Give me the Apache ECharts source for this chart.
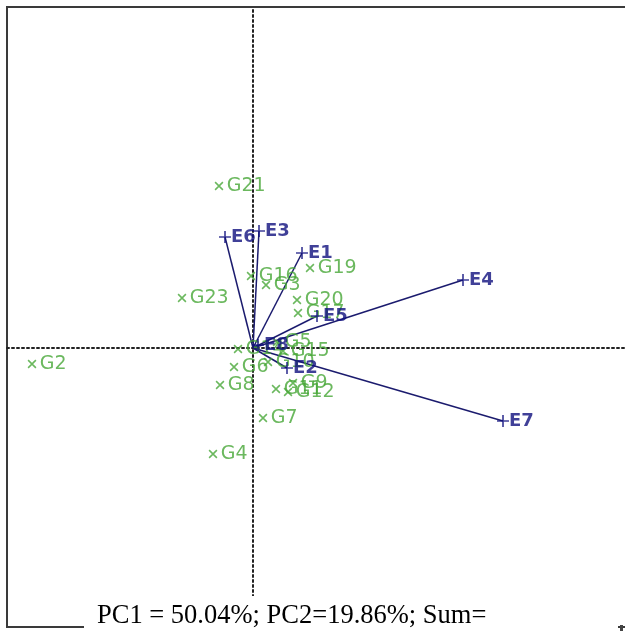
<!DOCTYPE html>
<html>
<head>
<meta charset="utf-8">
<script src="https://cdn.jsdelivr.net/npm/echarts@6/dist/echarts.min.js"></script>
<style>
  html, body { margin: 0; padding: 0; background: #fff; }
  #chart { width: 625px; height: 634px; }
</style>
</head>
<body>
<div id="chart"></div>
<script>
// environment vectors (PC1, PC2)
const envNames = ["E1", "E2", "E3", "E4", "E5", "E6", "E7", "E8"];
const envPC1 = [0.49, 0.34, 0.06, 2.10, 0.64, -0.28, 2.50, 0.05];
const envPC2 = [0.95, -0.20, 1.17, 0.68, 0.32, 1.11, -0.73, 0.03];

// genotype scores (PC1, PC2)
const genNames = ["G21", "G23", "G2", "G19", "G16", "G3", "G20", "G17", "G14", "G5", "G15",
  "G6", "G10", "G8", "G11", "G9", "G12", "G7", "G4"];
const genPC1 = [-0.34, -0.71, -2.21, 0.57, -0.02, 0.13, 0.44, 0.45, -0.15, 0.24, 0.30,
  -0.19, 0.15, -0.33, 0.23, 0.40, 0.35, 0.10, -0.40];
const genPC2 = [1.62, 0.50, -0.16, 0.80, 0.72, 0.63, 0.48, 0.35, -0.01, 0.06, -0.03,
  -0.19, -0.14, -0.37, -0.41, -0.35, -0.44, -0.70, -1.06];

const caption = "PC1 = 50.04%; PC2=19.86%; Sum=";

const plus = "path://M0,4.3H10V5.7H0Z M4.3,0H5.7V10H4.3Z";
const navy = "#1b1b6e";
const blue = "#10107e";
const green = "#46a636";

const chart = echarts.init(document.getElementById("chart"));

const envPoints = envNames.map((n, i) => ({ name: n, value: [envPC1[i], envPC2[i]] }));
const genPoints = genNames.map((n, i) => ({ name: n, value: [genPC1[i], genPC2[i]] }));
const vectors = envNames.map((n, i) => ({ coords: [[0, 0], [envPC1[i], envPC2[i]]] }));

chart.setOption({
  animation: false,
  grid: {
    left: 7, top: 7, width: 668, height: 620,
    outerBoundsMode: "none", containLabel: false,
    show: true, borderColor: "#3a3a3a", borderWidth: 2, backgroundColor: "transparent"
  },
  xAxis: {
    type: "value", min: -2.46, max: 4.22,
    axisLine: { show: true, onZero: true, lineStyle: { color: "#222", width: 2, type: [2, 3] } },
    axisTick: { show: false }, axisLabel: { show: false }, splitLine: { show: false }
  },
  yAxis: {
    type: "value", min: -2.79, max: 3.41,
    axisLine: { show: true, onZero: true, lineStyle: { color: "#222", width: 2, type: [2, 3] } },
    axisTick: { show: false }, axisLabel: { show: false }, splitLine: { show: false }
  },
  series: [
    {
      type: "lines",
      coordinateSystem: "cartesian2d",
      data: vectors,
      lineStyle: { color: navy, width: 1.5, opacity: 1 },
      z: 3
    },
    {
      type: "scatter",
      data: genPoints,
      symbol: plus,
      symbolSize: 11,
      symbolRotate: 45,
      itemStyle: { color: green },
      label: {
        show: true, position: "right", distance: 0,
        formatter: "{b}", color: green,
        fontFamily: "DejaVu Sans", fontSize: 19
      },
      z: 4
    },
    {
      type: "scatter",
      data: envPoints,
      symbol: plus,
      symbolSize: 12,
      itemStyle: { color: blue },
      label: {
        show: true, position: "right", distance: 0,
        formatter: "{b}", color: blue,
        fontFamily: "DejaVu Sans", fontSize: 18, fontWeight: "bold"
      },
      z: 5
    }
  ],
  graphic: [
    { type: "rect", left: 84, top: 596, shape: { width: 534, height: 38 }, style: { fill: "#fff" }, z: 10 },
    {
      type: "text", left: 97, top: 603, z: 11,
      style: { text: caption, font: "26.5px 'Liberation Serif'", fill: "#000" }
    },
    { type: "rect", left: 620, top: 625, shape: { width: 3, height: 6 }, style: { fill: "#444" }, z: 11 }
  ]
});
</script>
</body>
</html>
